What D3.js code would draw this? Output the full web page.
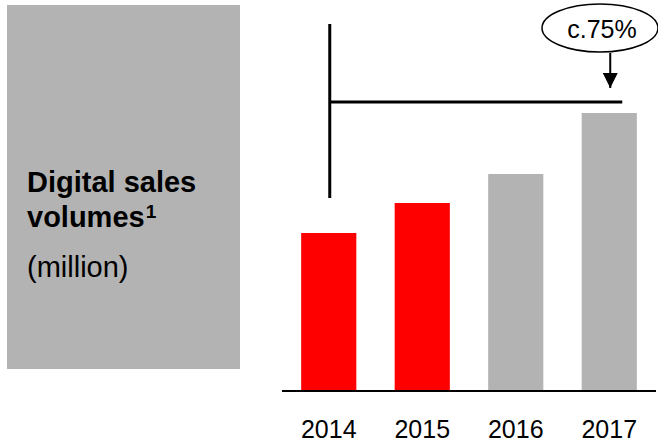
<!DOCTYPE html>
<html>
<head>
<meta charset="utf-8">
<script src="https://cdn.jsdelivr.net/npm/d3@7"></script>
<style>
  body { margin: 0; background: #fff; }
  text { font-family: "Liberation Sans", Arial, sans-serif; }
</style>
</head>
<body>
<div id="chart"></div>
<script>
// data (no axis shown, values are relative heights)
const years = ["2014", "2015", "2016", "2017"];
const volumes = [158, 188, 217, 278];
const barColors = ["#ff0000", "#ff0000", "#b3b3b3", "#b3b3b3"];
const growthLabel = "c.75%";

const width = 658, height = 444;

const svg = d3.select("#chart")
  .append("svg")
    .attr("width", width)
    .attr("height", height);

// grey title panel on the left
svg.append("rect")
  .attr("x", 7).attr("y", 5)
  .attr("width", 233).attr("height", 364)
  .attr("fill", "#b3b3b3");

const title = svg.append("text")
  .attr("x", 27).attr("y", 192)
  .style("font-size", "29px")
  .style("font-weight", "bold")
  .attr("fill", "#000");
title.append("tspan").text("Digital sales");
title.append("tspan").attr("x", 27).attr("dy", 35).text("volumes");
title.append("tspan").attr("dx", 1).attr("dy", -9).style("font-size", "19px").text("1");

svg.append("text")
  .attr("x", 27).attr("y", 277)
  .style("font-size", "29px")
  .attr("fill", "#000")
  .text("(million)");

// scales
const x = d3.scaleBand()
  .domain(years)
  .range([282, 656])
  .paddingInner(0.41)
  .paddingOuter(0.205);

const y = d3.scaleLinear()
  .domain([0, 278])
  .range([391, 113]);

svg.append("g")
  .selectAll("rect")
  .data(years)
  .join("rect")
    .attr("x", d => x(d))
    .attr("y", (d, i) => y(volumes[i]))
    .attr("width", x.bandwidth())
    .attr("height", (d, i) => y(0) - y(volumes[i]))
    .attr("fill", (d, i) => barColors[i]);

// x axis: baseline and year labels only
const xAxis = svg.append("g")
  .attr("transform", `translate(0, ${y(0)})`)
  .call(d3.axisBottom(x).tickSize(0).tickPadding(29));
xAxis.select(".domain")
  .attr("d", "M282,0H656")
  .attr("stroke", "#000")
  .attr("stroke-width", 2);
xAxis.selectAll("text")
  .style("font-size", "25px")
  .style("font-family", "'Liberation Sans', Arial, sans-serif")
  .attr("fill", "#000");

// growth bracket from 2014 to 2017
const cx0 = x("2014") + x.bandwidth() / 2 + 1;
const cx1 = x("2017") + x.bandwidth() / 2 + 1;
const bracketY = y(volumes[3]) - 11;

svg.append("line")
  .attr("x1", cx0).attr("x2", cx0)
  .attr("y1", 24).attr("y2", y(volumes[0]) - 35)
  .attr("stroke", "#000").attr("stroke-width", 3);

svg.append("line")
  .attr("x1", cx0).attr("x2", cx1 + 12)
  .attr("y1", bracketY).attr("y2", bracketY)
  .attr("stroke", "#000").attr("stroke-width", 3);

// arrow from bubble down to bracket
svg.append("defs").append("marker")
  .attr("id", "head")
  .attr("viewBox", "0 0 10 10")
  .attr("refX", 10).attr("refY", 5)
  .attr("markerWidth", 16).attr("markerHeight", 15)
  .attr("markerUnits", "userSpaceOnUse")
  .attr("orient", "auto")
  .append("path")
    .attr("d", "M0,0L10,5L0,10Z")
    .attr("fill", "#000");

svg.append("line")
  .attr("x1", cx1).attr("x2", cx1)
  .attr("y1", 53).attr("y2", bracketY - 14)
  .attr("stroke", "#000").attr("stroke-width", 2)
  .attr("marker-end", "url(#head)");

svg.append("ellipse")
  .attr("cx", 600).attr("cy", 28)
  .attr("rx", 58).attr("ry", 24)
  .attr("fill", "#fff")
  .attr("stroke", "#000")
  .attr("stroke-width", 1.5);

svg.append("text")
  .attr("x", 602).attr("y", 38)
  .attr("text-anchor", "middle")
  .style("font-size", "25px")
  .attr("fill", "#000")
  .text(growthLabel);
</script>
</body>
</html>
